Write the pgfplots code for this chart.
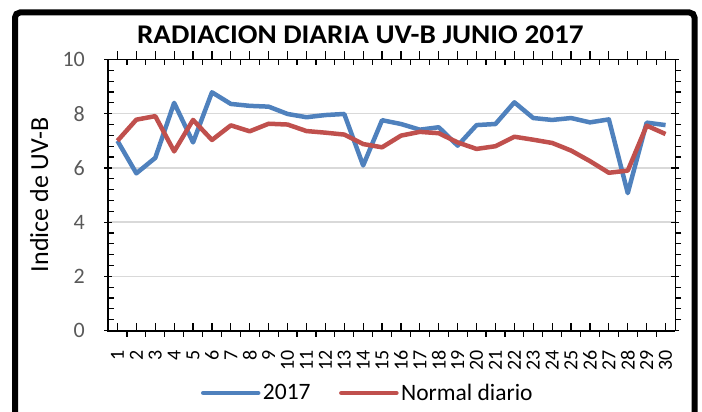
\documentclass[border=0pt]{standalone}
\usepackage{fontspec}
\setmainfont{Carlito}
\newfontfamily\titlefont[FakeStretch=1.08]{Carlito}
\usepackage{pgfplots}
\usepackage{pgfplotstable}
\pgfplotsset{compat=1.18}
\definecolor{uvblue}{HTML}{4F81BD}
\definecolor{uvred}{HTML}{C0504D}
\definecolor{gridgray}{HTML}{D9D9D9}
\definecolor{ticklbl}{HTML}{595959}

\pgfplotstableread{
day v2017 normal
1 7.00 7.00
2 5.80 7.78
3 6.37 7.91
4 8.40 6.61
5 6.94 7.77
6 8.79 7.03
7 8.36 7.57
8 8.29 7.35
9 8.26 7.63
10 7.99 7.60
11 7.87 7.36
12 7.95 7.30
13 7.99 7.23
14 6.09 6.88
15 7.76 6.76
16 7.62 7.19
17 7.41 7.33
18 7.50 7.28
19 6.82 6.94
20 7.58 6.70
21 7.62 6.80
22 8.42 7.15
23 7.84 7.04
24 7.77 6.92
25 7.84 6.64
26 7.68 6.25
27 7.79 5.82
28 5.07 5.90
29 7.67 7.56
30 7.58 7.25
}\uvdata

\begin{document}
\begin{tikzpicture}[x=1bp,y=1bp]
\useasboundingbox (0,0) rectangle (702,411);
\clip (0,0) rectangle (702,411);
\draw[line width=6bp, rounded corners=5bp] (15,-30) rectangle (694.5,398.5);
\begin{axis}[
  at={(108bp,80.5bp)}, anchor=south west,
  width=567bp, height=271bp, scale only axis,
  xmin=0.5, xmax=30.5, ymin=0, ymax=10,
  xtick={1,...,30}, minor x tick num=1,
  ytick={0,2,...,10}, minor y tick num=4,
  ymajorgrids, major grid style={gridgray, line width=1.3bp},
  tick align=center, major tick length=8bp, minor tick length=6bp,
  tick style={black, line width=1.2bp},
  major x tick style={yshift=4bp},
  minor x tick style={yshift=-3bp},
  minor y tick style={xshift=3bp},
  axis line style={black, line width=0.8bp},
  /pgf/number format/assume math mode=true,
  yticklabel style={font=\fontsize{22bp}{26bp}\selectfont, text=ticklbl, inner sep=0pt},
  yticklabel shift=19bp,
  xticklabel style={rotate=90, anchor=east, font=\fontsize{20bp}{24bp}\selectfont, inner sep=0pt},
  xticklabel shift=16bp,
  title={RADIACION DIARIA UV-B JUNIO 2017},
  title style={font=\titlefont\bfseries\fontsize{27bp}{32bp}\selectfont, at={(axis description cs:0.445,1.0387)}, anchor=base, inner sep=0pt},
  ylabel={Indice de UV-B},
  ylabel style={font=\fontsize{26bp}{31bp}\selectfont, at={(axis description cs:-0.1058,0.5)}, anchor=base, inner sep=0pt},
  legend style={at={(axis description cs:0.4586,-0.2306)}, anchor=center, draw=none, fill=none,
    legend columns=2, font=\fontsize{23.5bp}{28bp}\selectfont,
    /tikz/every even column/.append style={column sep=26bp}, inner sep=0pt, nodes={inner sep=2.5bp}},
  legend image code/.code={\draw[#1, line cap=round] (0bp,0bp) -- (55bp,0bp);},
  after end axis/.code={\draw[black, line width=2bp] (rel axis cs:0,1) -- (rel axis cs:0,0) -- (rel axis cs:1,0);},
]
\addplot[uvblue, line width=4.5bp, line join=round] table[x=day, y=v2017] {\uvdata};
\addlegendentry{2017}
\addplot[uvred, line width=4.5bp, line join=round] table[x=day, y=normal] {\uvdata};
\addlegendentry{Normal diario}
\end{axis}
\end{tikzpicture}
\end{document}
